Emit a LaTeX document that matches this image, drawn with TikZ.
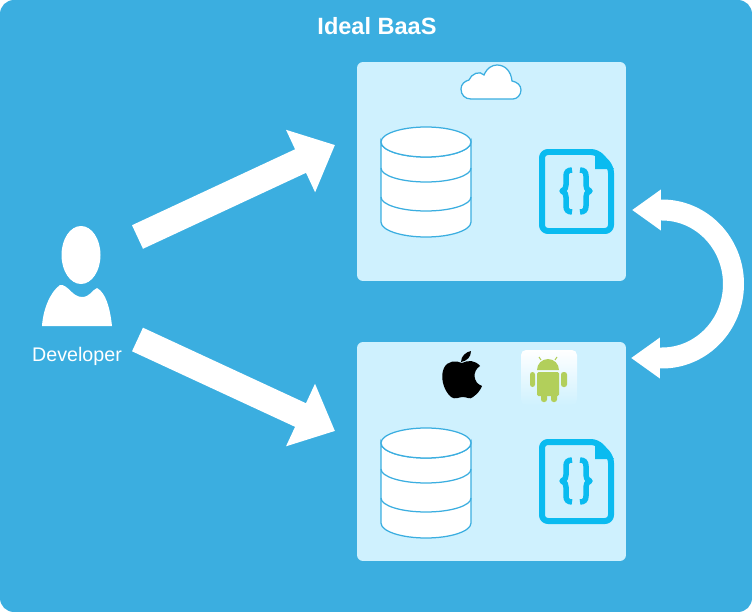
\documentclass[tikz,border=0pt]{standalone}
\usepackage{fontspec}
\setmainfont{Liberation Sans}
\usetikzlibrary{positioning,arrows.meta,calc}
\definecolor{baasblue}{HTML}{3BAEE0}
\definecolor{paleblue}{HTML}{CFF1FE}
\definecolor{iconblue}{HTML}{0ABBF0}
\definecolor{droidgreen}{HTML}{B2CF5B}
\tikzset{
  panel/.style={fill=baasblue, rounded corners=2.8mm},
  platbox/.style={fill=paleblue, rounded corners=1.2mm, minimum width=53.8mm,
    minimum height=43.8mm, inner sep=0pt},
  fatflow/.style={-{Triangle[length=7.6mm,width=13.3mm]}, line width=5.2mm, draw=white},
  hopflow/.style={{Triangle[length=5.8mm,width=7.8mm]}-{Triangle[length=5.8mm,width=7.8mm]},
    line width=4.2mm, draw=white},
  thinicon/.style={draw=baasblue, line width=0.25mm, fill=white},
  bracestroke/.style={iconblue, line width=1.1mm, line join=round},
  titlelab/.style={font=\fontsize{13.4}{15}\selectfont\bfseries, text=white, inner sep=0pt},
  devlab/.style={font=\fontsize{11.2}{13}\selectfont, text=white, inner sep=0pt},
  dbstack/.pic={
    \draw[thinicon] (-45,0) -- (-45,80) arc[start angle=180,end angle=0,x radius=45,y radius=15]
      -- (45,0) arc[start angle=0,end angle=180,x radius=45,y radius=15] -- cycle;
    \draw[thinicon] (0,0) ellipse[x radius=45,y radius=15];
    \draw[thinicon, fill=none] (-45,26) arc[start angle=180,end angle=0,x radius=45,y radius=14];
    \draw[thinicon, fill=none] (-45,55) arc[start angle=180,end angle=0,x radius=45,y radius=14];
  },
  docicon/.pic={
    \draw[iconblue, line width=1.2mm, rounded corners=1.2mm, line join=round]
      (3,3) -- (58,3) -- (72,18) -- (72,82) -- (3,82) -- cycle;
    \fill[iconblue] (56,1) -- (75,20) -- (56,20) -- cycle;
    \draw[bracestroke] (33,21) .. controls (29,21) and (27,23) .. (27,27)
      -- (27,36) .. controls (27,39) and (26,41) .. (23,42)
      .. controls (26,43) and (27,45) .. (27,48) -- (27,57)
      .. controls (27,61) and (29,63) .. (33,63);
    \draw[bracestroke] (41,21) .. controls (45,21) and (47,23) .. (47,27)
      -- (47,36) .. controls (47,39) and (48,41) .. (51,42)
      .. controls (48,43) and (47,45) .. (47,48) -- (47,57)
      .. controls (47,61) and (45,63) .. (41,63);
  },
}

\begin{document}
\begin{tikzpicture}[x=0.02cm, y=-0.02cm]
  \useasboundingbox (0,0) rectangle (752,612);
  \fill[panel] (0,0) rectangle (752,612);
  \node[titlelab] (title) at (377,26) {Ideal BaaS};

  \node[platbox] (cloudbox) at (491.5,171.5) {};
  \node[platbox] (mobilebox) at (491.5,451.5) {};

  % developer
  \fill[white] (81,255) ellipse[x radius=19.5,y radius=29];
  \fill[white] (42,326) .. controls (43,310) and (50,292) .. (60,285)
    .. controls (68,284) and (72,297) .. (82,297)
    .. controls (90,297) and (92,290) .. (97,288)
    .. controls (106,293) and (110,308) .. (112,326) -- cycle;
  \node[devlab] (devlabel) at (77,356) {Developer};

  % connectors
  \coordinate (uptail) at (137.5,237);
  \coordinate (uptip) at (335,145);
  \coordinate (downtail) at (137.5,339.5);
  \coordinate (downtip) at (335,431);
  \coordinate (hoptop) at (632,210);
  \coordinate (hopbottom) at (631,358);
  \draw[fatflow] (uptail) -- (uptip);
  \draw[fatflow] (downtail) -- (downtip);
  \draw[hopflow] (hoptop) -- (662,210) arc[start angle=-90,end angle=90,x radius=71.5,y radius=74]
    -- (hopbottom);

  % cloud
  \draw[thinicon] (471,99) .. controls (465,99) and (461,95) .. (461,89)
    .. controls (461,84) and (465,81) .. (469,80)
    .. controls (471,74) and (480,70) .. (484,75)
    .. controls (487,68) and (492,65) .. (497,65)
    .. controls (505,65) and (511,71) .. (512,81)
    .. controls (517,82) and (521,85) .. (521,90)
    .. controls (521,95) and (517,99) .. (513,99) -- cycle;

  \pic at (426,142) {dbstack};
  \pic at (426,443) {dbstack};
  \pic at (539,149) {docicon};
  \pic at (539,439) {docicon};

  % apple
  \fill[black] (462,363) .. controls (456,360) and (447,361) .. (444,368)
    .. controls (440,376) and (443,390) .. (451,397)
    .. controls (455,400) and (459,397) .. (463,397)
    .. controls (467,397) and (470,400) .. (473,397)
    .. controls (477,394) and (480,391) .. (482,386)
    .. controls (473,383) and (472,371) .. (480,366)
    .. controls (475,360) and (468,360) .. (462,363) -- cycle;
  \fill[black] (461,362) .. controls (461,356) and (466,352) .. (471,351)
    .. controls (471,357) and (467,361) .. (461,362) -- cycle;

  % android
  \shade[top color=white, middle color=white, bottom color=paleblue, rounded corners=1mm]
    (521,350) rectangle (577,405);
  \fill[droidgreen] (537,370) arc[start angle=180,end angle=360,x radius=11,y radius=11] -- cycle;
  \draw[droidgreen, line width=0.2mm] (541,360) -- (539,357) (555,360) -- (557,357);
  \fill[droidgreen, rounded corners=0.3mm] (537,372) rectangle (559,396);
  \fill[droidgreen, rounded corners=0.5mm] (530,372) rectangle (535,387);
  \fill[droidgreen, rounded corners=0.5mm] (561,372) rectangle (567,387);
  \fill[droidgreen, rounded corners=0.5mm] (541,392) rectangle (547,402);
  \fill[droidgreen, rounded corners=0.5mm] (551,392) rectangle (557,402);
\end{tikzpicture}
\end{document}
